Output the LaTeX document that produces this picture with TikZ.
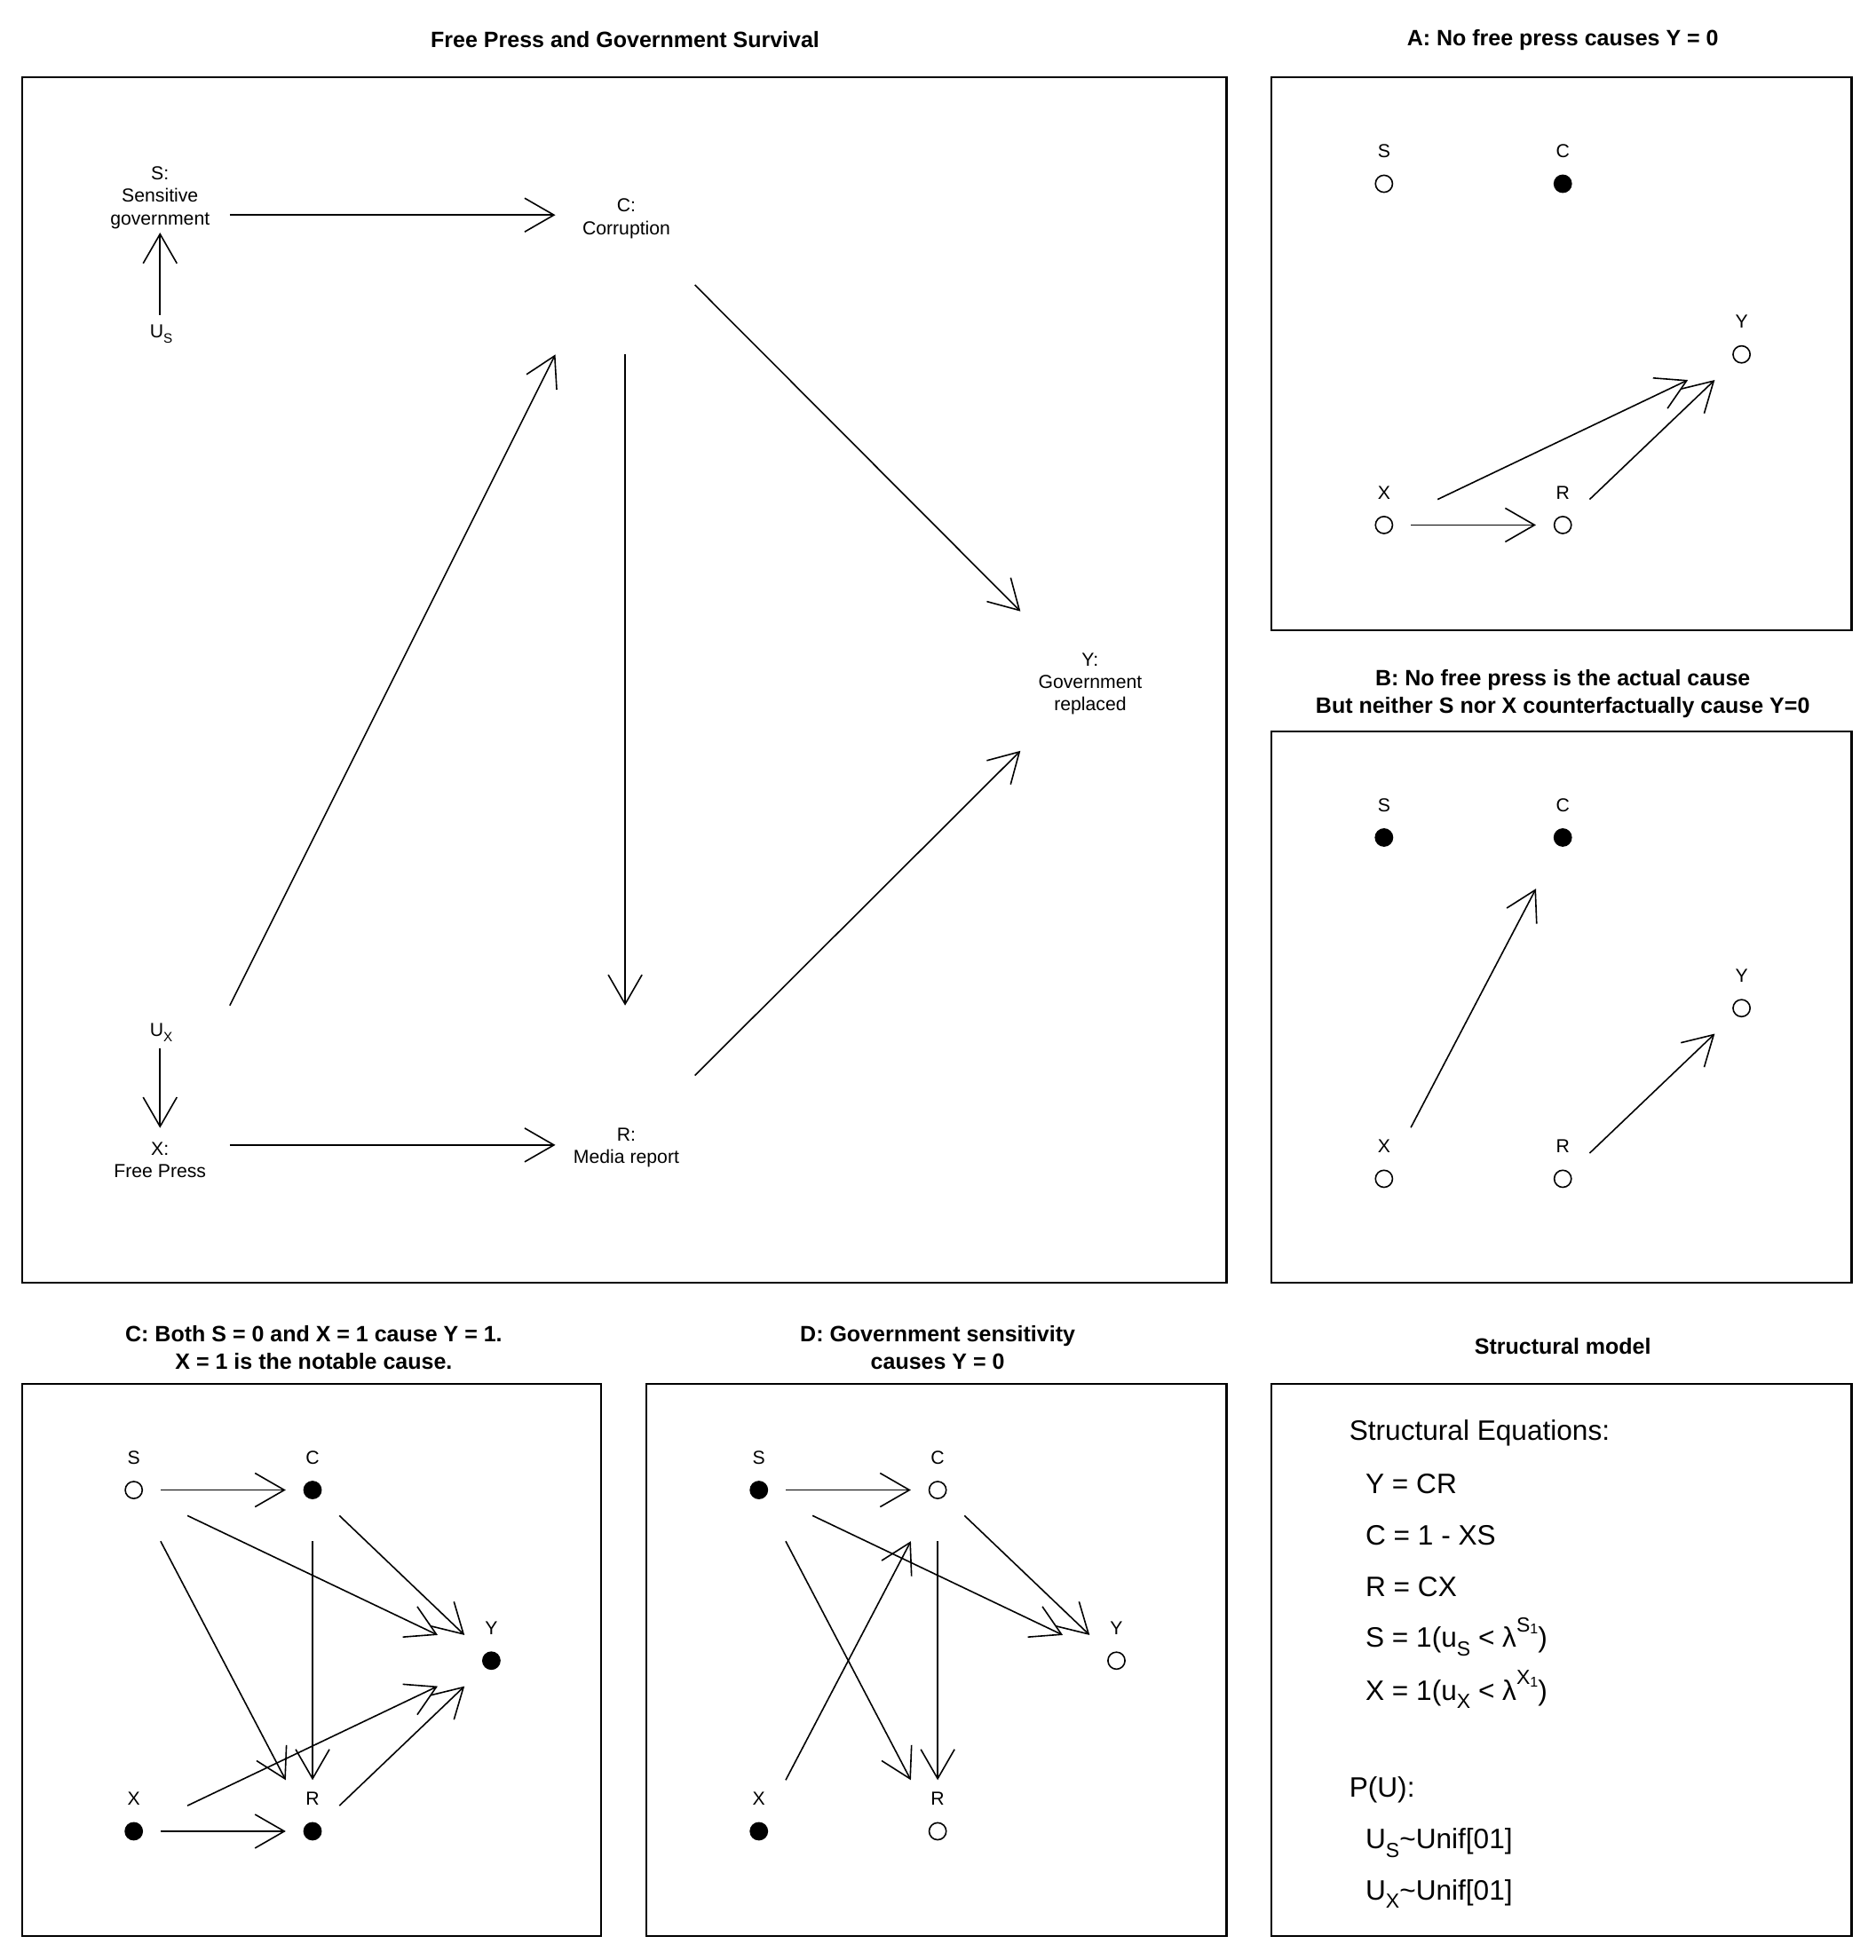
\documentclass[tikz,border=0pt]{standalone}
\usepackage{fontspec}
\setmainfont{Liberation Sans}
\usetikzlibrary{arrows.meta,calc}
\newcommand\labfont{\fontsize{10.6}{12.67}\selectfont}
\newcommand\titlefont{\fontsize{12.5}{15.5}\selectfont\bfseries}
\newcommand\eqfont{\fontsize{15.8}{19}\selectfont}
\newcommand\labsub[1]{\raisebox{-0.28em}{\fontsize{7.6}{8}\selectfont #1}}
\newcommand\eqsub[1]{\raisebox{-0.3em}{\fontsize{11.5}{12}\selectfont #1}}
\newcommand\eqsup[1]{\raisebox{0.55em}{\fontsize{11.5}{12}\selectfont #1}}
\newcommand\eqsubsub[1]{\raisebox{-0.1em}{\fontsize{8}{9}\selectfont #1}}
\newcommand\arrowbetween[2]{\draw[arr] ($(#1)!0.15!(#2)$) -- ($(#1)!0.85!(#2)$);}
\newcommand\dagnodes[6]{%
  \node[#2] (#1S) at (106,0) {};
  \node[lab] (#1Sl) at (106,-26) {S};
  \node[#3] (#1C) at (249,0) {};
  \node[lab] (#1Cl) at (249,-26) {C};
  \node[#4] (#1Y) at (392,136.5) {};
  \node[lab] (#1Yl) at (392,110.5) {Y};
  \node[#5] (#1X) at (106,273) {};
  \node[lab] (#1Xl) at (106,247) {X};
  \node[#6] (#1R) at (249,273) {};
  \node[lab] (#1Rl) at (249,247) {R};
}
\begin{document}
\begin{tikzpicture}[x=0.704pt,y=-0.704pt,
  arr/.style={line width=0.8pt,-{Straight Barb[length=16.5pt,width=19pt,line width=0.8pt]}},
  panel/.style={draw,line width=1.1pt},
  dotopen/.style={circle,draw,line width=0.8pt,minimum size=9.6pt,inner sep=0pt},
  dotfull/.style={dotopen,fill=black},
  lab/.style={font=\labfont,align=center,inner sep=0pt},
  ttlnode/.style={font=\titlefont,align=center,inner sep=0pt},
  eqnode/.style={font=\eqfont,anchor=base west,inner sep=0pt},
]
\useasboundingbox (0,0) rectangle (1500,1568);
\fill[white] (0,0) rectangle (1500,1568);

% ---------- panel frames ----------
\draw[panel] (18,62) rectangle (981,1026);
\draw[panel] (1017,62) rectangle (1481,504);
\draw[panel] (1017,585) rectangle (1481,1026);
\draw[panel] (18,1107) rectangle (481,1549);
\draw[panel] (517,1107) rectangle (981,1549);
\draw[panel] (1017,1107) rectangle (1481,1549);

% ---------- titles ----------
\node[ttlnode] (t0) at (500,32) {Free Press and Government Survival};
\node[ttlnode] (tA) at (1250,32) {A: No free press causes Y = 0};
\node[ttlnode] (tB) at (1250,555) {B: No free press is the actual cause\\But neither S nor X counterfactually cause Y=0};
\node[ttlnode] (tC) at (251,1078) {C: Both S = 0 and X = 1 cause Y = 1.\\X = 1 is the notable cause.};
\node[ttlnode] (tD) at (750,1078) {D: Government sensitivity\\causes Y = 0};
\node[ttlnode] (tE) at (1250,1077) {Structural model};

% ---------- main panel ----------
\coordinate (mS) at (128,172);
\coordinate (mC) at (500,172);
\coordinate (mY) at (872,545);
\coordinate (mX) at (128,916);
\coordinate (mR) at (500,916);
\coordinate (mUs) at (128,266);
\coordinate (mUx) at (128,825);
\node[lab] (mSt) at (128,158) {S:\\Sensitive\\government};
\node[lab] (mCt) at (501,175) {C:\\Corruption};
\node[lab] (mYt) at (872,547) {Y:\\Government\\replaced};
\node[lab] (mXt) at (128,928) {X:\\Free Press};
\node[lab] (mRt) at (501,918) {R:\\Media report};
\node[lab] (mUst) at (129,267) {U\labsub{S}};
\node[lab] (mUxt) at (129,826) {U\labsub{X}};
\arrowbetween{mUs}{mS}
\arrowbetween{mUx}{mX}
\arrowbetween{mS}{mC}
\arrowbetween{mX}{mC}
\arrowbetween{mC}{mR}
\arrowbetween{mC}{mY}
\arrowbetween{mR}{mY}
\arrowbetween{mX}{mR}

% ---------- panel A ----------
\begin{scope}[shift={(1001,147)}]
\dagnodes{a}{dotopen}{dotfull}{dotopen}{dotopen}{dotopen}
\end{scope}
\arrowbetween{aX}{aR}
\arrowbetween{aX}{aY}
\arrowbetween{aR}{aY}

% ---------- panel B ----------
\begin{scope}[shift={(1001,670)}]
\dagnodes{b}{dotfull}{dotfull}{dotopen}{dotopen}{dotopen}
\end{scope}
\arrowbetween{bX}{bC}
\arrowbetween{bR}{bY}

% ---------- panel C ----------
\begin{scope}[shift={(1,1192)}]
\dagnodes{c}{dotopen}{dotfull}{dotfull}{dotfull}{dotfull}
\end{scope}
\arrowbetween{cS}{cC}
\arrowbetween{cS}{cY}
\arrowbetween{cC}{cY}
\arrowbetween{cS}{cR}
\arrowbetween{cC}{cR}
\arrowbetween{cX}{cY}
\arrowbetween{cR}{cY}
\arrowbetween{cX}{cR}

% ---------- panel D ----------
\begin{scope}[shift={(501,1192)}]
\dagnodes{d}{dotfull}{dotopen}{dotopen}{dotfull}{dotopen}
\end{scope}
\arrowbetween{dS}{dC}
\arrowbetween{dS}{dY}
\arrowbetween{dC}{dY}
\arrowbetween{dS}{dR}
\arrowbetween{dX}{dC}
\arrowbetween{dC}{dR}

% ---------- structural model ----------
\node[eqnode] (e0) at (1079,1152) {Structural Equations:};
\node[eqnode] (e1) at (1092,1195) {Y = CR};
\node[eqnode] (e2) at (1092,1236) {C = 1 - XS};
\node[eqnode] (e3) at (1092,1277) {R = CX};
\node[eqnode] (e4) at (1092,1318) {S = 1(u\eqsub{S} < λ\eqsup{S\eqsubsub{1}})};
\node[eqnode] (e5) at (1092,1360) {X = 1(u\eqsub{X} < λ\eqsup{X\eqsubsub{1}})};
\node[eqnode] (e6) at (1079,1438) {P(U):};
\node[eqnode] (e7) at (1092,1479) {U\eqsub{S}\textasciitilde Unif[01]};
\node[eqnode] (e8) at (1092,1520) {U\eqsub{X}\textasciitilde Unif[01]};
\end{tikzpicture}
\end{document}
